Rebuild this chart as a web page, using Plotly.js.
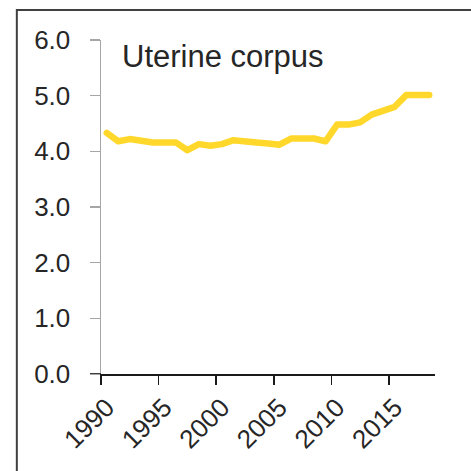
<!DOCTYPE html>
<html>
<head>
<meta charset="utf-8">
<script src="https://cdn.plot.ly/plotly-3.0.1.min.js"></script>
<style>
  html, body { margin: 0; padding: 0; background: #fff; }
  #chart { width: 471px; height: 471px; }
  .js-line { stroke-linejoin: round !important; stroke-linecap: round !important; }
</style>
</head>
<body>
<div id="chart"></div>
<script>
const years = [1990,1991,1992,1993,1994,1995,1996,1997,1998,1999,2000,2001,2002,2003,2004,2005,2006,2007,2008,2009,2010,2011,2012,2013,2014,2015,2016,2017,2018];
const rates = [4.33,4.18,4.22,4.19,4.16,4.16,4.16,4.02,4.13,4.10,4.13,4.20,4.17,4.16,4.14,4.12,4.23,4.23,4.23,4.18,4.48,4.48,4.52,4.66,4.72,4.80,5.01,5.01,5.01];
const tickBoundaries = [1989.5,1994.5,1999.5,2004.5,2009.5,2014.5];
const labelYears = [1990,1995,2000,2005,2010,2015];
const labelText = ['1990','1995','2000','2005','2010','2015'];
const yTicks = [0,1,2,3,4,5,6];
const chartTitle = 'Uterine corpus';

const font = 'Liberation Sans, Arial, sans-serif';
const xr = [1989.5, 2018.5];

const trace = {
  x: years, y: rates, type: 'scatter', mode: 'lines',
  line: {color: '#FFD82B', width: 6.5},
  hoverinfo: 'skip', showlegend: false
};

const layout = {
  width: 471, height: 471,
  margin: {l: 101, r: 36, t: 40, b: 97, pad: 0},
  paper_bgcolor: '#fff', plot_bgcolor: '#fff',
  font: {family: font, color: '#262626'},
  xaxis: {
    range: xr, tickmode: 'array', tickvals: tickBoundaries, ticktext: tickBoundaries.map(()=>''),
    showticklabels: false, ticks: 'outside', ticklen: 9, tickwidth: 1.5, tickcolor: '#1a1a1a',
    showline: true, linecolor: '#1a1a1a', linewidth: 1.5, showgrid: false, zeroline: false, fixedrange: true
  },
  xaxis2: {
    overlaying: 'x', side: 'bottom', anchor: 'y', range: xr,
    tickmode: 'array', tickvals: labelYears, ticktext: labelText, tickangle: -45,
    ticks: '', showline: false, showgrid: false, zeroline: false,
    tickfont: {family: font, size: 26, color: '#262626'}, ticklabelstandoff: 12
  },
  yaxis: {
    range: [0, 6], tickmode: 'array', tickvals: yTicks, ticktext: yTicks.map(v => v.toFixed(1)),
    ticks: 'outside', ticklen: 10, tickwidth: 1.5, tickcolor: '#a6a6a6',
    showline: true, linecolor: '#a6a6a6', linewidth: 1.5, showgrid: false, zeroline: false,
    tickfont: {family: font, size: 26, color: '#262626'}, ticklabelstandoff: 14, fixedrange: true
  },
  shapes: [
    {type: 'rect', xref: 'paper', yref: 'paper', x0: -0.252, x1: 2.5, y0: -1.5, y1: 1.09,
     line: {color: '#404040', width: 2}, layer: 'below'},
    {type: 'line', xref: 'paper', yref: 'y', x0: -0.033, x1: 0, y0: 0, y1: 0,
     line: {color: '#1a1a1a', width: 1.5}}
  ],
  annotations: [
    {text: chartTitle, xref: 'paper', yref: 'paper', x: 0.057, y: 1.008, xanchor: 'left', yanchor: 'top',
     showarrow: false, font: {family: font, size: 31, color: '#262626'}}
  ]
};

const trace2 = {x: [years[0]], y: [rates[0]], xaxis: 'x2', type: 'scatter', mode: 'markers',
  marker: {opacity: 0}, hoverinfo: 'skip', showlegend: false};

Plotly.newPlot('chart', [trace, trace2], layout, {staticPlot: true, displayModeBar: false});
</script>
</body>
</html>
